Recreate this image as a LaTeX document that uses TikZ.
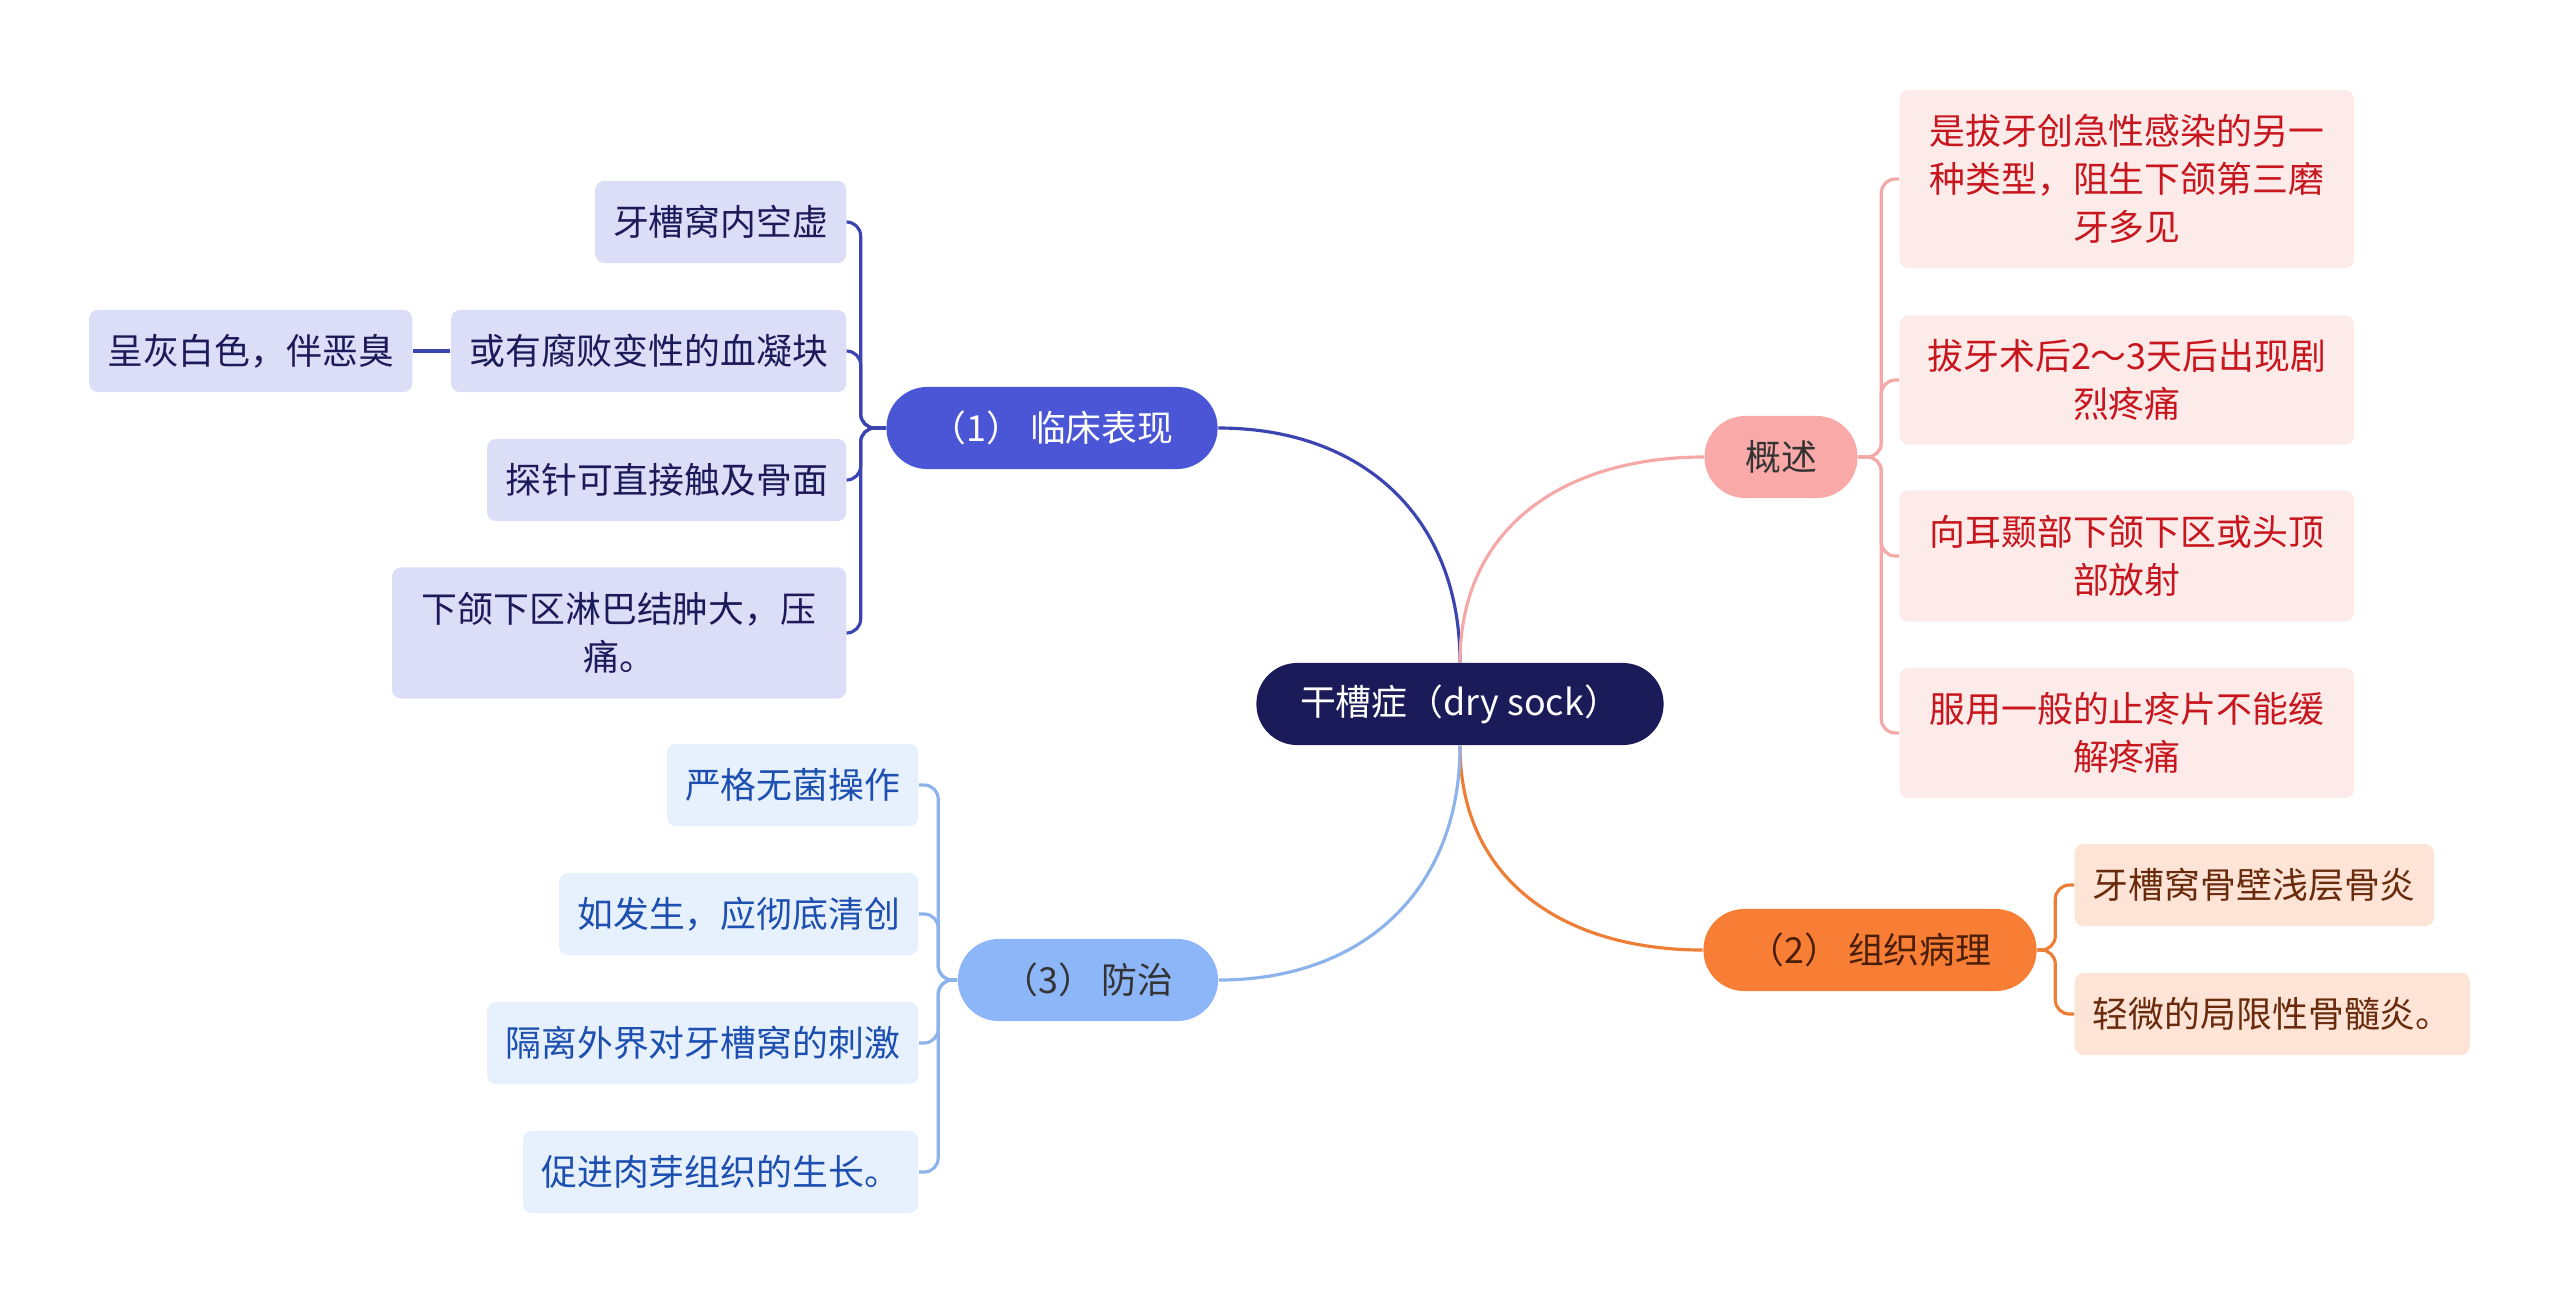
\documentclass[tikz,border=0pt]{standalone}
\usepackage{fontspec}
\setmainfont{Noto Sans CJK SC}

% colori della mappa
\definecolor{cNotte}{RGB}{27,27,90}
\definecolor{cBlu}{RGB}{74,86,214}
\definecolor{cLineaBlu}{RGB}{59,68,176}
\definecolor{cLavanda}{RGB}{220,221,247}
\definecolor{cCeleste}{RGB}{141,182,248}
\definecolor{cLineaCeleste}{RGB}{141,179,236}
\definecolor{cGhiaccio}{RGB}{231,240,253}
\definecolor{cTestoBlu}{RGB}{29,79,176}
\definecolor{cRosa}{RGB}{248,169,168}
\definecolor{cLineaRosa}{RGB}{244,169,168}
\definecolor{cCipria}{RGB}{253,235,234}
\definecolor{cRosso}{RGB}{200,22,30}
\definecolor{cArancio}{RGB}{247,126,52}
\definecolor{cLineaArancio}{RGB}{238,125,54}
\definecolor{cPesca}{RGB}{253,228,214}
\definecolor{cMarrone}{RGB}{106,43,12}
\definecolor{cTesto}{RGB}{51,51,51}

\begin{document}
\begin{tikzpicture}[x=0.01cm,y=-0.01cm,
    every node/.style={font=\fontsize{10.2pt}{13.7pt}\selectfont, align=center, inner sep=0pt},
    radice/.style={fill=cNotte, text=white, rounded corners=11.6pt, minimum width=4.07cm, minimum height=0.82cm},
    ramo/.style={rounded corners=11.6pt, minimum height=0.82cm},
    foglia/.style={rounded corners=2.5pt, minimum height=0.82cm},
    linea/.style={line width=0.9pt, rounded corners=4pt}]

        % Area del disegno
        \useasboundingbox (0,0) rectangle (2560,1305);

        % Nodo centrale
        \node[radice] (root) at (1460,704) {干槽症（dry sock）};

        % Rami principali
        \node[ramo, fill=cBlu, text=white, minimum width=3.31cm] (clin) at (1052,428) {（1） 临床表现};
        \node[ramo, fill=cRosa, text=cTesto, minimum width=1.53cm] (gaishu) at (1781,457) {概述};
        \node[ramo, fill=cArancio, text=cMarrone!70!black, minimum width=3.33cm] (pato) at (1870,950) {（2） 组织病理};
        \node[ramo, fill=cCeleste, text=cTesto, minimum width=2.60cm] (cura) at (1088,980) {（3） 防治};

        % Foglie del ramo (1)
        \node[foglia, fill=cLavanda, text=cNotte, anchor=east, minimum width=2.51cm] (vuoto) at (847,222) {牙槽窝内空虚};
        \node[foglia, fill=cLavanda, text=cNotte, anchor=east, minimum width=3.95cm] (coagulo) at (847,351) {或有腐败变性的血凝块};
        \node[foglia, fill=cLavanda, text=cNotte, anchor=east, minimum width=3.23cm] (odore) at (413,351) {呈灰白色，伴恶臭};
        \node[foglia, fill=cLavanda, text=cNotte, anchor=east, minimum width=3.59cm] (sonda) at (847,480) {探针可直接触及骨面};
        \node[foglia, fill=cLavanda, text=cNotte, anchor=east, minimum width=4.54cm, minimum height=1.31cm] (linfo) at (847,633) {下颌下区淋巴结肿大，压\\痛。};

        % Foglie del ramo (3)
        \node[foglia, fill=cGhiaccio, text=cTestoBlu, anchor=east, minimum width=2.51cm] (asettico) at (919,785) {严格无菌操作};
        \node[foglia, fill=cGhiaccio, text=cTestoBlu, anchor=east, minimum width=3.59cm] (pulizia) at (919,914) {如发生，应彻底清创};
        \node[foglia, fill=cGhiaccio, text=cTestoBlu, anchor=east, minimum width=4.31cm] (isola) at (919,1043) {隔离外界对牙槽窝的刺激};
        \node[foglia, fill=cGhiaccio, text=cTestoBlu, anchor=east, minimum width=3.95cm] (granula) at (919,1172) {促进肉芽组织的生长。};

        % Foglie di 概述
        \node[foglia, fill=cCipria, text=cRosso, anchor=west, minimum width=4.54cm, minimum height=1.78cm] (tipo) at (1899,179) {是拔牙创急性感染的另一\\种类型，阻生下颌第三磨\\牙多见};
        \node[foglia, fill=cCipria, text=cRosso, anchor=west, minimum width=4.54cm, minimum height=1.29cm] (dolore) at (1899,380) {拔牙术后2～3天后出现剧\\烈疼痛};
        \node[foglia, fill=cCipria, text=cRosso, anchor=west, minimum width=4.54cm, minimum height=1.31cm] (irradia) at (1899,556) {向耳颞部下颌下区或头顶\\部放射};
        \node[foglia, fill=cCipria, text=cRosso, anchor=west, minimum width=4.54cm, minimum height=1.30cm] (farmaco) at (1899,733) {服用一般的止疼片不能缓\\解疼痛};

        % Foglie del ramo (2)
        \node[foglia, fill=cPesca, text=cMarrone, anchor=west, minimum width=3.59cm] (osteite) at (2074,885) {牙槽窝骨壁浅层骨炎};
        \node[foglia, fill=cPesca, text=cMarrone, anchor=west, minimum width=3.95cm] (midollo) at (2074,1014) {轻微的局限性骨髓炎。};

        % Collegamenti dal centro
        \draw[linea, cLineaBlu] (root.north) to[out=90, in=0, looseness=1.1] (clin.east);
        \draw[linea, cLineaRosa] (root.north) to[out=90, in=180, looseness=1.1] (gaishu.west);
        \draw[linea, cLineaArancio] (root.south) to[out=-90, in=180, looseness=1.1] (pato.west);
        \draw[linea, cLineaCeleste] (root.south) to[out=-90, in=0, looseness=1.1] (cura.east);

        % Collegamenti del ramo (1)
        \foreach \f in {vuoto, coagulo, sonda, linfo}
            \draw[linea, cLineaBlu] (clin.west) -- ++(-25,0) |- (\f.east);
        \draw[linea, cLineaBlu] (coagulo.west) -- (odore.east);

        % Collegamenti del ramo (3)
        \foreach \f in {asettico, pulizia, isola, granula}
            \draw[linea, cLineaCeleste] (cura.west) -- ++(-19,0) |- (\f.east);

        % Collegamenti di 概述
        \foreach \f in {tipo, dolore, irradia, farmaco}
            \draw[linea, cLineaRosa] (gaishu.east) -- ++(23,0) |- (\f.west);

        % Collegamenti del ramo (2)
        \foreach \f in {osteite, midollo}
            \draw[linea, cLineaArancio] (pato.east) -- ++(18,0) |- (\f.west);

    \end{tikzpicture}
\end{document}
